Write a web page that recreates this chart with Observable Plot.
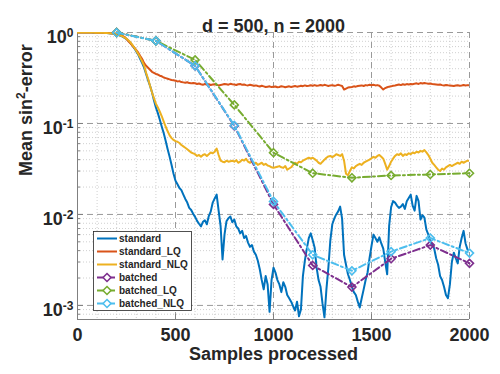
<!DOCTYPE html>
<html><head><meta charset="utf-8">
<script src="https://cdn.jsdelivr.net/npm/d3@7"></script>
<script src="https://cdn.jsdelivr.net/npm/@observablehq/plot@0.6"></script>
<style>
body{margin:0;background:#fff;}
#chart{position:relative;width:500px;height:374px;font-family:"Liberation Sans",Arial,sans-serif;}
#legend{position:absolute;left:93px;top:231px;}
</style></head><body><div id="chart"></div>
<script>
const title = "d = 500, n = 2000";
const xLabel = "Samples processed";
const yLabelParts = ["Mean sin", "2", "-error"];
const xTicks = [0, 500, 1000, 1500, 2000];
const yTicks = [1e-3, 1e-2, 1e-1, 1];
const xMinor = [100,200,300,400,600,700,800,900,1100,1200,1300,1400,1600,1700,1800,1900];
const yMinorMantissa = [2,3,4,5,6,7,8,9];
const seriesNames = ["standard","standard_LQ","standard_NLQ","batched","batched_LQ","batched_NLQ"];
const colors = ["#0072BD","#D95319","#EDB120","#7E2F8E","#77AC30","#4DBEEE"];

const samples = d3.range(0, 2001, 10);
const standard = [
1.0,1.0,1.0,0.999,0.999,0.998,0.998,0.997,0.996,0.995,
0.994,0.993,0.992,0.990,0.988,0.985,0.982,0.978,0.972,0.965,
0.955,0.940,0.920,0.900,0.875,0.850,0.810,0.770,0.720,0.670,
0.620,0.570,0.510,0.460,0.410,0.350,0.300,0.260,0.220,0.180,
0.150,0.130,0.110,0.092,0.078,0.064,0.052,0.043,0.035,0.028,
0.0235,0.0215,0.0195,0.0185,0.0165,0.0148,0.0135,0.0118,0.0112,0.0102,
0.0094,0.0085,0.0079,0.0074,0.0083,0.0086,0.0078,0.0096,0.0108,0.0135,
0.0150,0.0165,0.0110,0.0075,0.0032,0.0060,0.0084,0.0091,0.0095,0.0082,
0.0088,0.0074,0.0070,0.0062,0.0066,0.0055,0.0058,0.0049,0.0044,0.0046,
0.0039,0.0036,0.0031,0.0025,0.0019,0.0015,0.0021,0.0017,0.00085,0.0019,
0.0026,0.0023,0.0019,0.0017,0.0014,0.0018,0.0016,0.0013,0.0012,0.0011,
0.00098,0.00088,0.0011,0.00076,0.0009,0.0021,0.0031,0.0042,0.0055,0.0062,
0.0052,0.0043,0.0026,0.0019,0.0016,0.00105,0.00074,0.0015,0.0026,0.0052,
0.0078,0.0090,0.0100,0.0108,0.0122,0.0090,0.0036,0.0028,0.0022,0.0019,
0.0016,0.0014,0.0013,0.0011,0.00095,0.0012,0.0015,0.0019,0.0023,0.0033,
0.0045,0.0060,0.0055,0.0050,0.0056,0.0048,0.0042,0.0030,0.0022,0.0075,
0.0120,0.0140,0.0135,0.0125,0.0118,0.0122,0.0130,0.0115,0.0140,0.0152,
0.0165,0.0125,0.0110,0.0160,0.0140,0.0088,0.0098,0.0092,0.0068,0.0060,
0.0050,0.0047,0.0042,0.0033,0.0028,0.0021,0.0019,0.0016,0.0013,0.0012,
0.0017,0.0030,0.0038,0.0033,0.0029,0.0044,0.0055,0.0066,0.0048,0.0041,
0.0040];
const standardLQ = [
1.0,1.0,1.0,1.0,1.0,0.999,0.999,0.998,0.998,0.997,
0.996,0.995,0.994,0.992,0.990,0.988,0.985,0.982,0.978,0.972,
0.965,0.955,0.940,0.920,0.890,0.850,0.800,0.760,0.720,0.680,
0.640,0.600,0.550,0.510,0.460,0.430,0.410,0.390,0.370,0.360,
0.350,0.345,0.335,0.330,0.320,0.315,0.310,0.305,0.300,0.298,
0.295,0.290,0.292,0.285,0.283,0.280,0.284,0.278,0.276,0.279,
0.277,0.272,0.275,0.270,0.266,0.272,0.268,0.270,0.265,0.268,
0.270,0.266,0.262,0.265,0.268,0.272,0.270,0.267,0.273,0.270,
0.268,0.265,0.270,0.272,0.266,0.268,0.264,0.262,0.266,0.263,
0.260,0.262,0.258,0.255,0.260,0.256,0.252,0.254,0.256,0.251,
0.253,0.255,0.250,0.252,0.257,0.254,0.250,0.253,0.256,0.252,
0.255,0.258,0.254,0.256,0.260,0.257,0.262,0.258,0.260,0.263,
0.260,0.264,0.260,0.262,0.265,0.261,0.266,0.262,0.258,0.262,
0.264,0.260,0.262,0.266,0.262,0.258,0.236,0.242,0.248,0.250,
0.252,0.256,0.254,0.258,0.260,0.262,0.258,0.264,0.262,0.266,
0.263,0.266,0.262,0.264,0.260,0.248,0.236,0.245,0.250,0.254,
0.256,0.260,0.262,0.265,0.268,0.264,0.270,0.267,0.271,0.268,
0.272,0.270,0.274,0.276,0.272,0.278,0.275,0.279,0.276,0.273,
0.275,0.272,0.270,0.268,0.266,0.268,0.264,0.262,0.265,0.263,
0.262,0.260,0.258,0.261,0.263,0.260,0.262,0.265,0.262,0.264,
0.262];
const standardNLQ = [
1.0,1.0,1.0,1.0,1.0,0.999,0.999,0.998,0.997,0.996,
0.995,0.994,0.993,0.991,0.989,0.986,0.983,0.979,0.974,0.967,
0.957,0.943,0.925,0.905,0.880,0.855,0.820,0.780,0.730,0.680,
0.630,0.580,0.530,0.480,0.430,0.360,0.310,0.260,0.220,0.190,
0.165,0.150,0.135,0.120,0.105,0.092,0.082,0.074,0.069,0.066,
0.064,0.063,0.061,0.058,0.056,0.054,0.052,0.050,0.048,0.047,
0.046,0.044,0.045,0.043,0.045,0.046,0.044,0.046,0.048,0.047,
0.049,0.053,0.045,0.039,0.038,0.0375,0.039,0.038,0.0385,0.039,
0.038,0.0395,0.037,0.038,0.040,0.039,0.041,0.038,0.037,0.038,
0.036,0.037,0.035,0.036,0.037,0.035,0.036,0.0345,0.034,0.033,
0.0325,0.033,0.0335,0.034,0.033,0.0325,0.034,0.031,0.032,0.033,
0.035,0.037,0.036,0.038,0.0375,0.039,0.040,0.041,0.042,0.041,
0.042,0.0405,0.039,0.037,0.036,0.038,0.040,0.042,0.0435,0.044,
0.0425,0.044,0.046,0.045,0.044,0.046,0.039,0.028,0.027,0.030,
0.033,0.032,0.034,0.035,0.036,0.035,0.037,0.038,0.039,0.040,
0.0415,0.043,0.042,0.044,0.045,0.043,0.041,0.036,0.031,0.034,
0.038,0.041,0.044,0.046,0.045,0.047,0.044,0.046,0.045,0.047,
0.046,0.048,0.047,0.049,0.048,0.050,0.049,0.051,0.048,0.045,
0.041,0.037,0.035,0.033,0.031,0.030,0.032,0.031,0.033,0.034,
0.035,0.034,0.035,0.036,0.037,0.036,0.038,0.037,0.038,0.039,
0.039];

const batchSamples = [200, 400, 600, 800, 1000, 1200, 1400, 1600, 1800, 2000];
const batched    = [1.0, 0.81, 0.43, 0.094, 0.0129, 0.00275, 0.00159, 0.00326, 0.0046, 0.0029];
const batchedLQ  = [1.0, 0.81, 0.50, 0.16, 0.0477, 0.0284, 0.0253, 0.0268, 0.0275, 0.0284];
const batchedNLQ = [0.995, 0.81, 0.43, 0.095, 0.0139, 0.0036, 0.0024, 0.0039, 0.0055, 0.00376];

const ink = "#262626";
const font = '"Liberation Sans", Arial, sans-serif';
const yDomain = [7e-4, 1];
const yMinor = [-4,-3,-2,-1].flatMap(e => yMinorMantissa.map(m => m * Math.pow(10, e))).filter(v => v > yDomain[0] && v < 1);
const dashDot = "7,3,2,3";

const contLine = (vals, ci) => Plot.line(vals, {x: (d, i) => samples[i], y: d => d, stroke: colors[ci], strokeWidth: 2, clip: true});
const batchLine = (vals, ci) => [
  Plot.line(vals, {x: (d, i) => batchSamples[i], y: d => d, stroke: colors[ci], strokeWidth: 2, strokeDasharray: dashDot}),
  Plot.dot(vals, {x: (d, i) => batchSamples[i], y: d => d, stroke: colors[ci], symbol: "diamond2", r: 3.6, strokeWidth: 1.6, fill: "none"})
];

const plot = Plot.plot({
  width: 500, height: 374,
  marginLeft: 77, marginRight: 31, marginTop: 32, marginBottom: 55,
  style: {fontFamily: font, color: ink, background: "white", overflow: "visible"},
  x: {domain: [0, 2000]},
  y: {type: "log", domain: yDomain},
  marks: [
    Plot.ruleX(xMinor, {stroke: "#c4c4c4", strokeDasharray: "1,2", strokeWidth: 0.8}),
    Plot.ruleY(yMinor, {stroke: "#c4c4c4", strokeDasharray: "1,2", strokeWidth: 0.8}),
    Plot.ruleX(xTicks.slice(1), {stroke: "#9a9a9a", strokeDasharray: "6,4", strokeWidth: 1}),
    Plot.ruleY(yTicks, {stroke: "#9a9a9a", strokeDasharray: "6,4", strokeWidth: 1}),
    Plot.ruleX([0], {stroke: "#808080", strokeWidth: 1}),
    Plot.ruleY([yDomain[0]], {stroke: "#808080", strokeWidth: 1}),
    Plot.tickX(xTicks, {x: d => d, stroke: "#808080", insetTop: 282}),
    Plot.tickY(yTicks, {y: d => d, stroke: "#808080", insetRight: 386}),
    Plot.tickY(yMinor, {y: d => d, stroke: "#808080", insetRight: 389}),
    contLine(standard, 0),
    contLine(standardLQ, 1),
    contLine(standardNLQ, 2),
    ...batchLine(batched, 3),
    ...batchLine(batchedLQ, 4),
    ...batchLine(batchedNLQ, 5),
    Plot.axisX({ticks: xTicks, tickSize: 0, tickPadding: 9, fontSize: 18, fontWeight: "bold", tickFormat: d => String(d), label: null}),
    Plot.axisY({ticks: yTicks, tickSize: 0, tickPadding: 4, fontSize: 18, fontWeight: "bold", tickFormat: d => String(Math.round(Math.log10(d))), label: null, dy: 5}),
    Plot.text([title], {frameAnchor: "top", dy: -13, fontSize: 18, fontWeight: "bold", fill: ink}),
    Plot.text([xLabel], {frameAnchor: "bottom", dy: 40, fontSize: 18, fontWeight: "bold", fill: ink}),
    Plot.text([yLabelParts.join("")], {frameAnchor: "left", dx: -51, rotate: -90, fontSize: 18, fontWeight: "bold", fill: ink})
  ]
});

// superscript exponents on the log-axis labels
d3.select(plot).selectAll('[aria-label="y-axis tick label"] text').each(function() {
  const exp = this.textContent;
  const t = d3.select(this);
  t.text("10");
  t.append("tspan").attr("dy", "-6").attr("font-size", "12px").text(exp);
});
// superscript 2 in the y label
const fullYLabel = yLabelParts.join("");
d3.select(plot).selectAll("text").filter(function() { return this.textContent === fullYLabel; }).each(function() {
  const t = d3.select(this);
  t.text(yLabelParts[0]);
  t.append("tspan").attr("dy", "-7").attr("font-size", "12px").text(yLabelParts[1]);
  t.append("tspan").attr("dy", "7").text(yLabelParts[2]);
});

const chart = document.getElementById("chart");
chart.appendChild(plot);

// legend (inside the plot area, lower left)
const lg = d3.select(chart).append("svg").attr("id", "legend").attr("width", 100).attr("height", 81);
lg.append("rect").attr("x", 0.5).attr("y", 0.5).attr("width", 98).attr("height", 79)
  .attr("fill", "white").attr("stroke", ink).attr("stroke-width", 0.8);
seriesNames.forEach((name, i) => {
  const y = 7.5 + 13 * i;
  const g = lg.append("g");
  g.append("line").attr("x1", 4).attr("x2", 24).attr("y1", y).attr("y2", y)
    .attr("stroke", colors[i]).attr("stroke-width", 2)
    .attr("stroke-dasharray", i >= 3 ? "6,2,2,2" : null);
  if (i >= 3) {
    g.append("path").attr("d", d3.symbol(d3.symbolDiamond2, 40)()).attr("transform", `translate(14,${y})`)
      .attr("fill", "white").attr("stroke", colors[i]).attr("stroke-width", 1.6);
  }
  g.append("text").attr("x", 26).attr("y", y).attr("dy", "0.35em")
    .attr("font-size", 10).attr("font-weight", "bold").attr("fill", ink)
    .attr("font-family", font).text(name);
});
</script></body></html>
